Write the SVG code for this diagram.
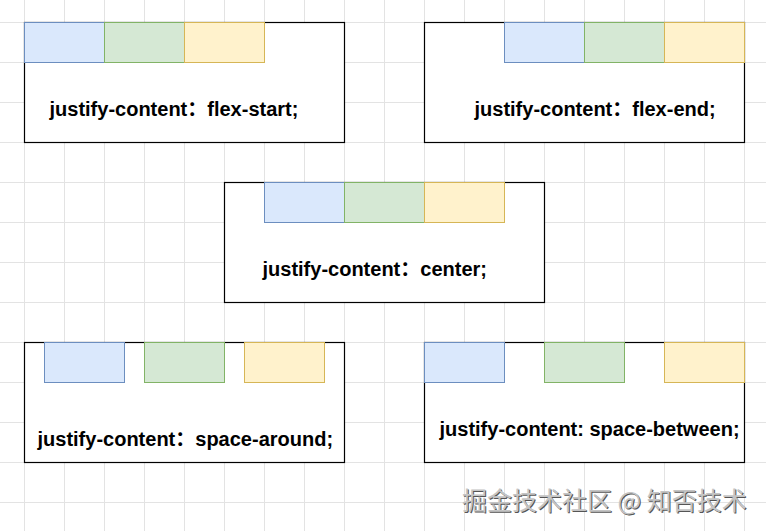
<svg xmlns="http://www.w3.org/2000/svg" width="766" height="531" viewBox="0 0 766 531">
  <defs>
    <pattern id="grid" x="24" y="22" width="40" height="40" patternUnits="userSpaceOnUse">
      <path d="M0.5 0 V40 M0 0.5 H40" fill="none" stroke="#e3e3e3" stroke-width="1"/>
    </pattern>
    <style>
      .box { fill: #ffffff; stroke: #000000; stroke-width: 1.2; }
      .blue { fill: #dae8fc; stroke: #6c8ebf; stroke-width: 1; }
      .green { fill: #d5e8d4; stroke: #82b366; stroke-width: 1; }
      .yellow { fill: #fff2cc; stroke: #d6b656; stroke-width: 1; }
      .lbl { font-family: "Liberation Sans", "Noto Sans CJK SC", Arial, sans-serif; font-size: 20px; font-weight: bold; fill: #000000; }
      .wm { font-family: "Noto Sans CJK SC", "Liberation Sans", sans-serif; font-size: 25px; }
    </style>
  </defs>
  <rect x="0" y="0" width="766" height="531" fill="#ffffff"/>
  <rect x="0" y="0" width="766" height="531" fill="url(#grid)"/>

  <g id="connectors"></g>

  <g transform="translate(0.5,0.5)">
    <g id="flex-start">
      <rect class="box" x="24" y="22" width="320" height="120"/>
      <rect class="blue" x="24" y="22" width="80" height="40"/>
      <rect class="green" x="104" y="22" width="80" height="40"/>
      <rect class="yellow" x="184" y="22" width="80" height="40"/>
      <text class="lbl" x="49" y="115">justify-content：flex-start;</text>
    </g>
    <g id="flex-end">
      <rect class="box" x="424" y="22" width="320" height="120"/>
      <rect class="blue" x="504" y="22" width="80" height="40"/>
      <rect class="green" x="584" y="22" width="80" height="40"/>
      <rect class="yellow" x="664" y="22" width="80" height="40"/>
      <text class="lbl" x="474" y="115">justify-content：flex-end;</text>
    </g>
    <g id="center">
      <rect class="box" x="224" y="182" width="320" height="120"/>
      <rect class="blue" x="264" y="182" width="80" height="40"/>
      <rect class="green" x="344" y="182" width="80" height="40"/>
      <rect class="yellow" x="424" y="182" width="80" height="40"/>
      <text class="lbl" x="262" y="275">justify-content：center;</text>
    </g>
    <g id="space-around">
      <rect class="box" x="24" y="342" width="320" height="120"/>
      <rect class="blue" x="44" y="342" width="80" height="40"/>
      <rect class="green" x="144" y="342" width="80" height="40"/>
      <rect class="yellow" x="244" y="342" width="80" height="40"/>
      <text class="lbl" x="37" y="445">justify-content：space-around;</text>
    </g>
    <g id="space-between">
      <rect class="box" x="424" y="342" width="320" height="120"/>
      <rect class="blue" x="424" y="342" width="80" height="40"/>
      <rect class="green" x="544" y="342" width="80" height="40"/>
      <rect class="yellow" x="664" y="342" width="80" height="40"/>
      <text class="lbl" x="439" y="435">justify-content: space-between;</text>
    </g>
  </g>

  <g id="watermark">
    <text class="wm" x="463" y="511" fill="#555555">掘金技术社区 @ 知否技术</text>
    <text class="wm" x="462" y="510" fill="#c4c4c4">掘金技术社区 @ 知否技术</text>
  </g>
</svg>
